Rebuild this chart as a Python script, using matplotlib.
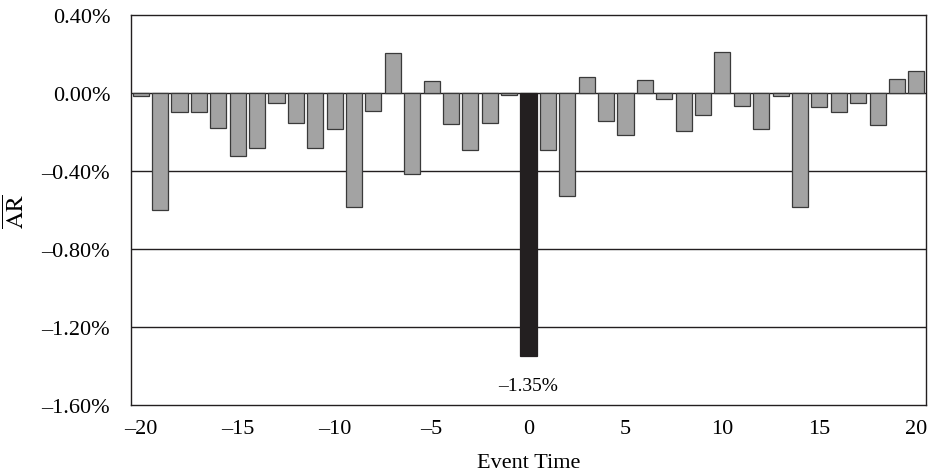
import matplotlib.pyplot as plt
import numpy as np

# event days and average abnormal returns (%)
days = list(range(-20, 21))
ar = [-0.017, -0.60, -0.10, -0.10, -0.177, -0.325, -0.283, -0.051, -0.152, -0.284,
      -0.186, -0.583, -0.092, 0.203, -0.416, 0.063, -0.160, -0.290, -0.153, -0.012,
      -1.35,
      -0.293, -0.528, 0.083, -0.145, -0.215, 0.065, -0.031, -0.196, -0.114, 0.211,
      -0.066, -0.186, -0.017, -0.586, -0.070, -0.097, -0.053, -0.162, 0.072, 0.111]
yticks = [0.4, 0.0, -0.4, -0.8, -1.2, -1.6]
xticks = [-20, -15, -10, -5, 0, 5, 10, 15, 20]

plt.rcParams['font.family'] = 'Liberation Serif'
plt.rcParams['mathtext.fontset'] = 'stix'

fig = plt.figure(figsize=(9.32, 4.77), dpi=100)
ax = fig.add_axes([0.1406, 0.1488, 0.853, 0.8177])

colors = ['#231f20' if d == 0 else '#a3a3a3' for d in days]
edges = ['#231f20' if d == 0 else '#3a3a3a' for d in days]
ax.bar(days, ar, width=0.83, color=colors, edgecolor=edges, linewidth=0.9, zorder=3)

for y in [0.0, -0.4, -0.8, -1.2]:
    ax.axhline(y, color='#231f20', linewidth=1.0, zorder=1)

ax.set_xlim(-20.5, 20.5)
ax.set_ylim(-1.6, 0.4)
ax.set_yticks(yticks)
ax.set_yticklabels([('%.2f%%' % v).replace('-', '\u2013') if v != 0 else '0.00%' for v in yticks])
ax.set_xticks(xticks)
ax.set_xticklabels([str(v).replace('-', '\u2013') for v in xticks])
ax.tick_params(axis='y', length=0, pad=15, labelsize=16)
ax.tick_params(axis='x', length=0, pad=10, labelsize=16)
for s in ax.spines.values():
    s.set_color('#231f20')
    s.set_linewidth(1.0)

ax.annotate('\u20131.35%', xy=(0, -1.35), xytext=(0, -21), textcoords='offset points',
            ha='center', va='center', fontsize=14)

ax.set_xlabel('Event Time', fontsize=16, labelpad=11)
fig.text(0.018, 0.557, r'$\overline{\mathrm{AR}}$', rotation=90, ha='center', va='center', fontsize=17)

fig.savefig('out.png', dpi=100)
